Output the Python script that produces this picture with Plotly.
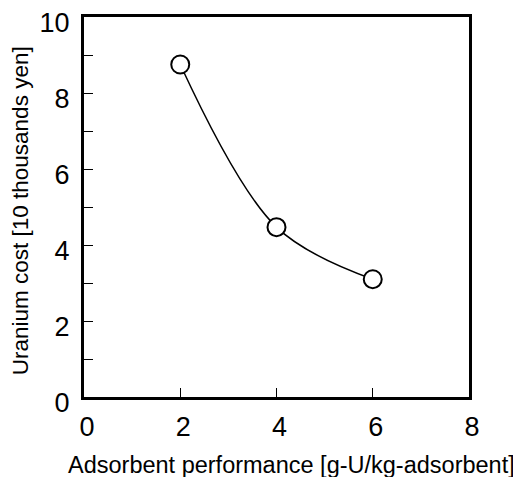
import plotly.graph_objects as go

performance = [2, 4, 6]
uranium_cost = [8.75, 4.47, 3.1]

x_ticks = [0, 2, 4, 6, 8]
y_ticks = [0, 1, 2, 3, 4, 5, 6, 7, 8, 9, 10]
y_ticktext = ["0", "", "2", "", "4", "", "6", "", "8", "", "10"]

x_title = "Adsorbent performance [g-U/kg-adsorbent]"
y_title = "Uranium cost [10 thousands yen]"

fig = go.Figure()
fig.add_trace(go.Scatter(
    x=performance, y=uranium_cost, mode="lines+markers",
    line=dict(color="black", width=1.5, shape="spline", smoothing=1.0),
    marker=dict(symbol="circle", size=18, color="white", line=dict(color="black", width=2)),
    showlegend=False, cliponaxis=False,
))

font = "Liberation Sans, Arial, sans-serif"
fig.update_layout(
    width=513, height=469,
    margin=dict(l=76, r=52, t=9, b=80),
    paper_bgcolor="white", plot_bgcolor="white",
    font=dict(family=font, color="black"),
    xaxis=dict(
        range=[0, 8], tickvals=x_ticks, ticks="inside", ticklen=9, tickwidth=1, tickcolor="black",
        showline=True, linewidth=3, linecolor="black", mirror=True, showgrid=False, zeroline=False,
        tickfont=dict(size=27), ticklabelstandoff=4, ticklabelshift=3,
        automargin=False, ticklabeloverflow="allow",
    ),
    yaxis=dict(
        range=[0, 10], tickvals=y_ticks, ticktext=y_ticktext, ticks="inside", ticklen=9, tickwidth=1,
        tickcolor="black",
        showline=True, linewidth=3, linecolor="black", mirror=True, showgrid=False, zeroline=False,
        tickfont=dict(size=27), ticklabelstandoff=6, ticklabelshift=6,
        automargin=False, ticklabeloverflow="allow",
    ),
    annotations=[
        dict(text=x_title, xref="paper", yref="paper", x=0.54, y=-0.179,
             xanchor="center", yanchor="middle", showarrow=False, font=dict(size=23.5)),
        dict(text=y_title, xref="paper", yref="paper", x=-0.165, y=0.49, textangle=-90,
             xanchor="center", yanchor="middle", showarrow=False, font=dict(size=22.5)),
    ],
)
fig.write_html("out.html")
